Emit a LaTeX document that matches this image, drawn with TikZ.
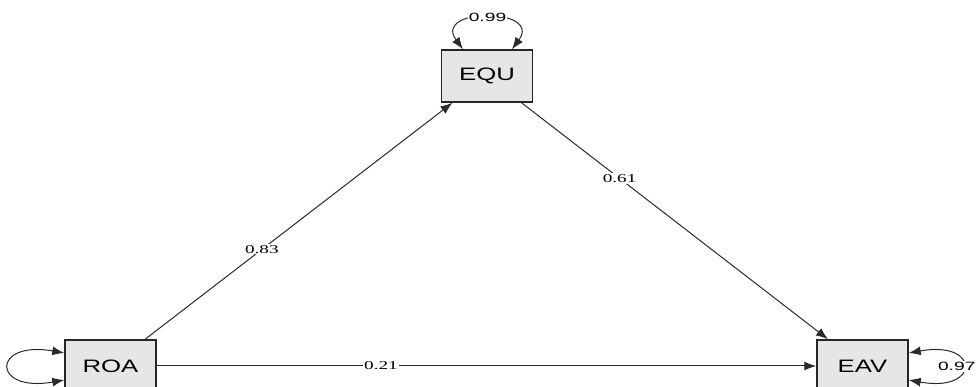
\documentclass[tikz,border=0pt]{standalone}
\usepackage{fontspec}
\setmainfont{Liberation Serif}
\setsansfont{Liberation Sans}
\usepackage{graphicx}
\usepackage{tikz}
\usetikzlibrary{arrows.meta, calc}
\definecolor{boxfill}{HTML}{E6E6E6}
\definecolor{pathgray}{HTML}{2A2A2A}
\newcommand{\widen}[2]{\scalebox{#1}[1]{#2}}

\begin{document}
\begin{tikzpicture}[x=1pt, y=-1pt,
    manifest/.style={rectangle, draw=black!85, line width=1.5pt, fill=boxfill, minimum width=91pt, minimum height=52pt, inner sep=0pt, font=\sffamily\fontsize{18}{18}\selectfont},
    regpath/.style={draw=pathgray, line width=1pt, -{Latex[length=12pt, width=9pt]}},
    varloop/.style={draw=pathgray, line width=1pt, {Latex[length=12pt, width=9pt]}-{Latex[length=12pt, width=9pt]}},
    coef/.style={fill=white, inner sep=1pt, font=\rmfamily\fontsize{12}{12}\selectfont},
    resvar/.style={fill=white, inner sep=1pt, font=\sffamily\fontsize{12}{12}\selectfont}
]
\useasboundingbox (0,0) rectangle (978,387);

% Observed variables
\node[manifest] (equ) at (487,76) {\widen{1.43}{EQU}};
\node[manifest] (roa) at (110.5,366) {\widen{1.43}{ROA}};
\node[manifest] (eav) at (862.5,366) {\widen{1.43}{EAV}};

% Regression paths
\draw[regpath] (roa) -- node[coef, pos=0.38] (c83) {\widen{1.6}{0.83}} (equ);
\draw[regpath] (equ) -- node[coef, pos=0.32] (c61) {\widen{1.6}{0.61}} (eav);
\draw[regpath] (roa) -- node[coef, pos=0.34] (c21) {\widen{1.6}{0.21}} (eav);

% Residual variances
\draw[varloop] ([xshift=-24pt]equ.north) .. controls +(-31,-42) and +(31,-42) .. node[resvar, pos=0.5] (v99) {\widen{1.6}{0.99}} ([xshift=25pt]equ.north);
\draw[varloop] ([yshift=13pt]roa.west) .. controls +(-73,-13) and +(-73,13) .. ([yshift=-14pt]roa.west);
\draw[varloop] ([yshift=13pt]eav.east) .. controls +(72,-13) and +(72,13) .. node[resvar, pos=0.5, xshift=-6pt] (v97) {\widen{1.6}{0.97}} ([yshift=-14pt]eav.east);

\end{tikzpicture}
\end{document}
